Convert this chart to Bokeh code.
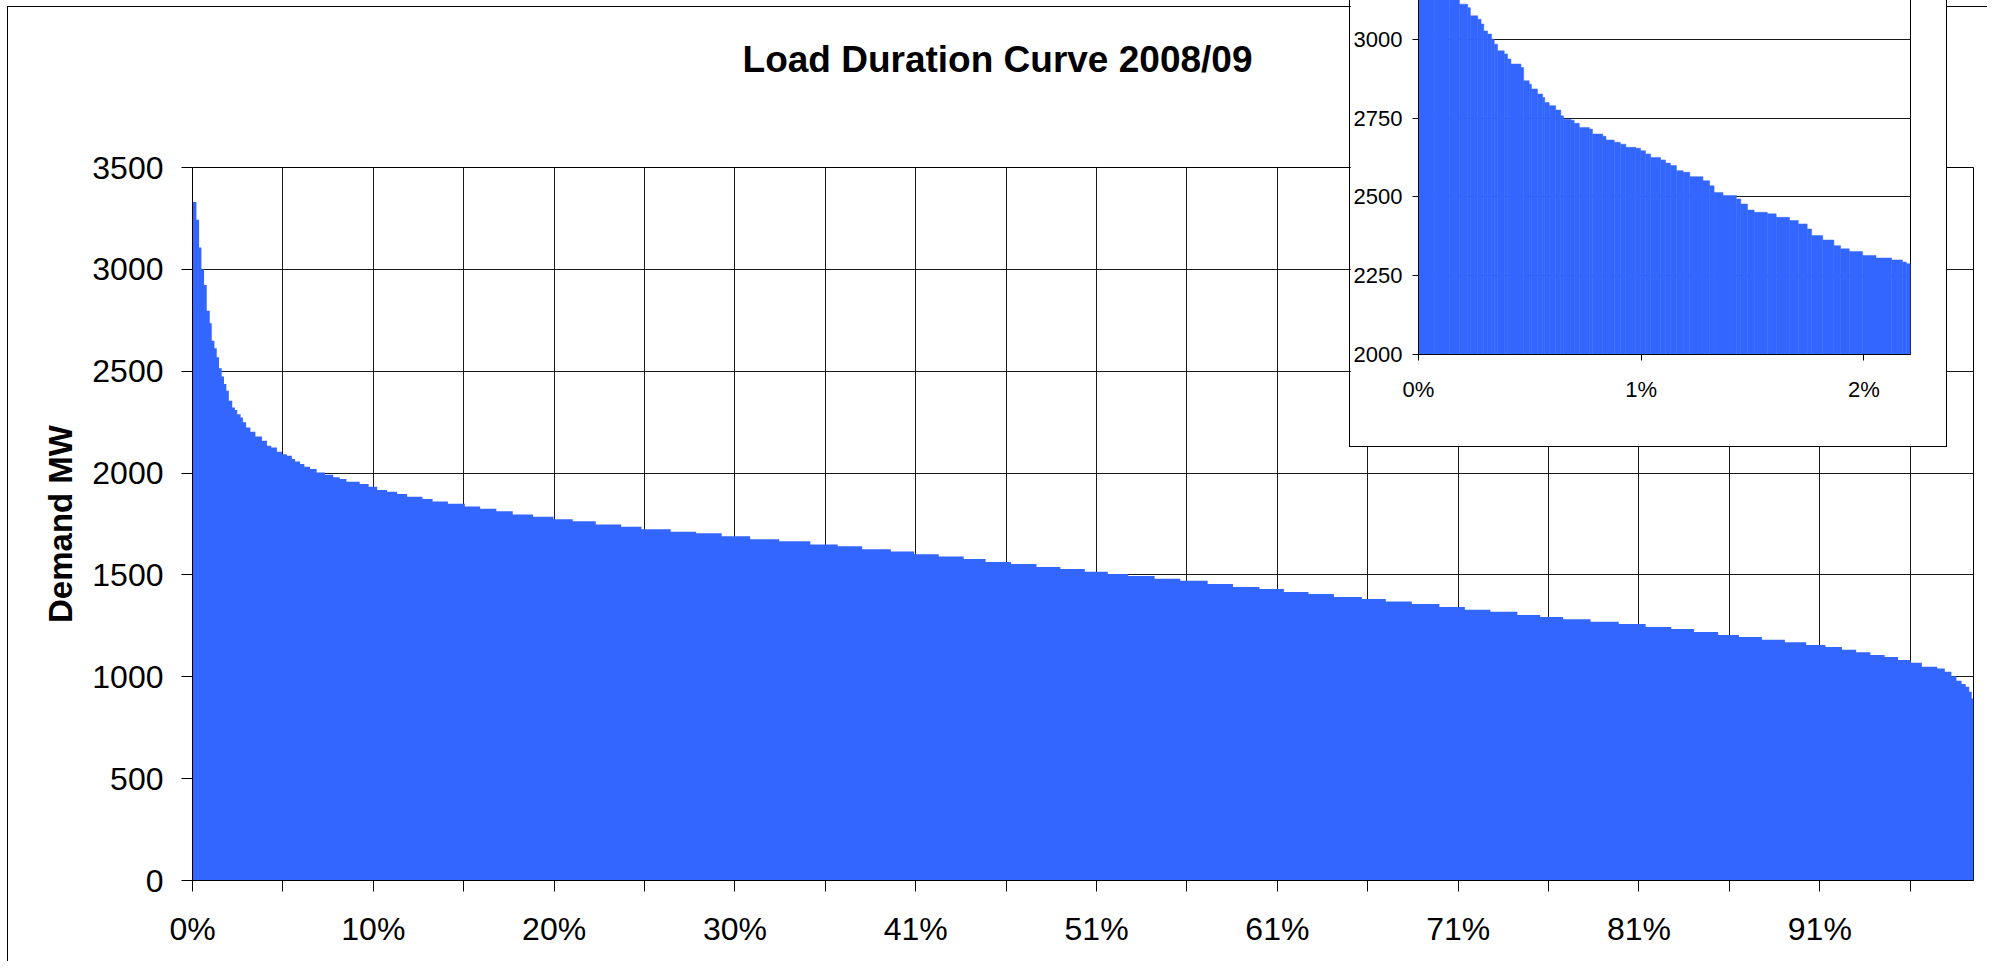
from bokeh.plotting import figure
from bokeh.models import Range1d, FixedTicker, ColumnDataSource
from bokeh.core.properties import value
from bokeh.embed import file_html
from bokeh.resources import INLINE

FONT = "Liberation Sans"
BAR_COLOR = "#3366FF"
GRID_COLOR = "#1a1a1a"

# ---------------- main chart data (percent of time, demand MW) ----------------
main_pct_start = [0.00, 0.22, 0.37, 0.50, 0.65, 0.80, 0.97, 1.08, 1.23, 1.36,
                  1.49, 1.64, 1.77, 1.90, 2.04, 2.23, 2.38, 2.51, 2.70, 2.83,
                  3.01, 3.25, 3.53, 3.90, 4.18, 4.42, 4.74, 5.02, 5.30, 5.58,
                  5.76, 6.04, 6.28, 6.60, 6.97, 7.44, 7.90, 8.27, 8.64, 9.39,
                  9.89, 10.37, 10.93, 11.49, 12.05, 12.91, 13.48, 14.34, 15.29, 16.15,
                  17.06, 17.98, 19.12, 20.27, 21.35, 22.64, 24.07, 25.21, 26.85, 28.28,
                  29.71, 31.31, 32.94, 34.69, 36.23, 37.60, 39.21, 40.52, 41.90, 43.30,
                  44.53, 45.96, 47.39, 48.73, 50.10, 51.39, 52.54, 54.02, 55.46, 57.00,
                  58.42, 59.91, 61.28, 62.66, 64.09, 65.66, 67.00, 68.46, 70.01, 71.44,
                  72.87, 74.39, 75.67, 76.96, 78.50, 80.08, 81.59, 83.03, 84.31, 85.66,
                  86.83, 88.12, 89.41, 90.61, 91.69, 92.61, 93.41, 94.21, 95.01, 95.76,
                  96.47, 97.10, 97.96, 98.39, 98.76, 99.04, 99.33, 99.56, 99.76, 99.90]
main_demand_mw = [3331, 3243, 3107, 3001, 2923, 2797, 2736, 2649, 2613, 2568,
                  2515, 2474, 2437, 2404, 2355, 2322, 2309, 2289, 2273, 2249,
                  2224, 2203, 2180, 2159, 2134, 2126, 2105, 2093, 2085, 2069,
                  2057, 2044, 2031, 2020, 2003, 1992, 1979, 1971, 1957, 1946,
                  1933, 1917, 1908, 1897, 1884, 1873, 1860, 1849, 1836, 1825,
                  1813, 1797, 1786, 1773, 1763, 1748, 1737, 1724, 1712, 1704,
                  1690, 1675, 1665, 1649, 1641, 1626, 1615, 1602, 1591, 1578,
                  1563, 1554, 1539, 1529, 1515, 1505, 1495, 1481, 1471, 1455,
                  1441, 1431, 1416, 1406, 1392, 1382, 1369, 1357, 1342, 1329,
                  1319, 1303, 1293, 1283, 1270, 1259, 1244, 1234, 1220, 1205,
                  1195, 1182, 1170, 1156, 1146, 1133, 1120, 1107, 1097, 1082,
                  1069, 1049, 1041, 1025, 1003, 980, 964, 951, 926, 893]
MAIN_X_END = 100.0

category_count = 197
tick_every = 10
main_x_tick_labels = ["0%", "", "10%", "", "20%", "", "30%", "", "41%", "",
                      "51%", "", "61%", "", "71%", "", "81%", "", "91%", ""]
main_y_ticks = [0, 500, 1000, 1500, 2000, 2500, 3000, 3500]
TITLE = "Load Duration Curve 2008/09"

# ---------------- inset data (first ~2.2 % of the year) ----------------
inset_pct_start = [0.000, 0.070, 0.140, 0.184, 0.221, 0.233, 0.266, 0.281, 0.293, 0.310,
                   0.328, 0.340, 0.355, 0.385, 0.400, 0.415, 0.460, 0.472, 0.497, 0.507,
                   0.534, 0.557, 0.567, 0.587, 0.616, 0.639, 0.651, 0.684, 0.699, 0.722,
                   0.767, 0.781, 0.827, 0.842, 0.879, 0.906, 0.931, 0.976, 0.997, 1.019,
                   1.042, 1.087, 1.109, 1.131, 1.158, 1.188, 1.218, 1.277, 1.307, 1.327,
                   1.367, 1.427, 1.447, 1.477, 1.507, 1.566, 1.606, 1.666, 1.705, 1.745,
                   1.765, 1.815, 1.865, 1.895, 1.934, 1.994, 2.054, 2.124, 2.173, 2.190]
inset_demand_mw = [3331, 3243, 3160, 3111, 3100, 3074, 3063, 3048, 3026, 3016,
                   3000, 2984, 2963, 2953, 2937, 2921, 2910, 2868, 2857, 2842,
                   2826, 2815, 2799, 2789, 2775, 2757, 2746, 2743, 2733, 2720,
                   2715, 2699, 2692, 2680, 2673, 2667, 2657, 2654, 2646, 2636,
                   2625, 2617, 2607, 2599, 2583, 2578, 2564, 2551, 2535, 2514,
                   2504, 2493, 2477, 2458, 2451, 2446, 2435, 2425, 2414, 2398,
                   2377, 2363, 2345, 2335, 2327, 2314, 2306, 2300, 2293, 2288]
INSET_X_END = 2.209
INSET_Y_START = 2000
INSET_Y_END = 3500
inset_x_ticks = [0, 1, 2]
inset_x_tick_labels = ["0%", "1%", "2%"]
inset_y_ticks = [2000, 2250, 2500, 2750, 3000]

# ---------------- main figure ----------------
p = figure(width=1980, height=955, output_backend="svg", toolbar_location=None,
           x_range=Range1d(0, MAIN_X_END), y_range=Range1d(0, 3500),
           min_border_left=184, min_border_right=15, min_border_top=160,
           min_border_bottom=82,
           margin=(6, 0, 0, 7),
           styles={"border-left": "1px solid black", "border-top": "1px solid black"})
p.background_fill_color = "white"
p.border_fill_color = "white"
p.outline_line_color = "black"

main_x_ticks = [round(i * tick_every * 100.0 / category_count, 6) for i in range(len(main_x_tick_labels))]
p.xaxis.ticker = FixedTicker(ticks=main_x_ticks)
p.xaxis.major_label_overrides = {t: lab for t, lab in zip(main_x_ticks, main_x_tick_labels)}
p.yaxis.ticker = FixedTicker(ticks=main_y_ticks)
p.xgrid.ticker = FixedTicker(ticks=main_x_ticks)
p.ygrid.ticker = FixedTicker(ticks=main_y_ticks)

for ax in (p.xaxis[0], p.yaxis[0]):
    ax.major_label_text_font = FONT
    ax.major_label_text_font_size = "32px"
    ax.major_label_text_color = "black"
    ax.axis_line_color = "black"
    ax.major_tick_line_color = "black"
    ax.major_tick_out = 11
    ax.major_tick_in = 0
    ax.minor_tick_line_color = None
p.xaxis.major_label_standoff = 19
p.yaxis.major_label_standoff = 18
p.yaxis.axis_label = "Demand MW"
p.yaxis.axis_label_text_font = FONT
p.yaxis.axis_label_text_font_size = "33px"
p.yaxis.axis_label_text_font_style = "bold"
p.yaxis.axis_label_text_color = "black"
p.yaxis.axis_label_standoff = 10

for g in (p.xgrid[0], p.ygrid[0]):
    g.grid_line_color = GRID_COLOR
    g.grid_line_width = 1

main_src = ColumnDataSource(dict(
    x=main_pct_start + [MAIN_X_END],
    y=main_demand_mw + [main_demand_mw[-1]],
))
p.varea_step(x="x", y1=0, y2="y", step_mode="after", source=main_src,
             fill_color=BAR_COLOR)

# ---------------- title (text in its own small transparent figure) ----------------
title_fig = figure(width=600, height=80, output_backend="svg", toolbar_location=None,
                   x_range=Range1d(0, 1), y_range=Range1d(0, 1),
                   x_axis_location=None, y_axis_location=None, min_border=0,
                   styles={"position": "absolute", "left": "697px", "top": "19px",
                           "z-index": "5"})
title_fig.outline_line_color = None
title_fig.background_fill_alpha = 0
title_fig.border_fill_alpha = 0
title_fig.grid.visible = False
title_fig.text(x=[0.5], y=[0.5], text=[TITLE], text_font=value(FONT),
               text_font_size="37px", text_font_style="bold", text_color="black",
               text_align="center", text_baseline="alphabetic")

# ---------------- inset figure ----------------
inset = figure(width=598, height=598, output_backend="svg", toolbar_location=None,
               x_range=Range1d(0, INSET_X_END), y_range=Range1d(INSET_Y_START, INSET_Y_END),
               min_border_left=67, min_border_right=38, min_border_top=31,
               min_border_bottom=94,
               styles={"position": "absolute", "left": "1349px", "top": "-151px",
                       "border": "1px solid black", "z-index": "10"})
inset.background_fill_color = "white"
inset.border_fill_color = "white"
inset.outline_line_color = "black"
inset.xaxis.ticker = FixedTicker(ticks=inset_x_ticks)
inset.xaxis.major_label_overrides = {t: lab for t, lab in zip(inset_x_ticks, inset_x_tick_labels)}
inset.yaxis.ticker = FixedTicker(ticks=inset_y_ticks)
inset.ygrid.ticker = FixedTicker(ticks=inset_y_ticks)
inset.xgrid.grid_line_color = None
inset.ygrid.grid_line_color = GRID_COLOR
for ax in (inset.xaxis[0], inset.yaxis[0]):
    ax.major_label_text_font = FONT
    ax.major_label_text_font_size = "22px"
    ax.major_label_text_color = "black"
    ax.axis_line_color = "black"
    ax.major_tick_line_color = "black"
    ax.major_tick_out = 6
    ax.major_tick_in = 0
    ax.minor_tick_line_color = None
inset.xaxis.major_label_standoff = 16
inset.yaxis.major_label_standoff = 10

inset_src = ColumnDataSource(dict(
    left=inset_pct_start,
    right=inset_pct_start[1:] + [INSET_X_END],
    top=inset_demand_mw,
))
inset.quad(left="left", right="right", bottom=INSET_Y_START, top="top", source=inset_src,
           fill_color=BAR_COLOR, line_color=BAR_COLOR, line_width=0.5)

# separate roots: no frame alignment between the figures; title and inset are
# positioned absolutely on the page
open("out.html", "w").write(file_html([p, title_fig, inset], INLINE))
